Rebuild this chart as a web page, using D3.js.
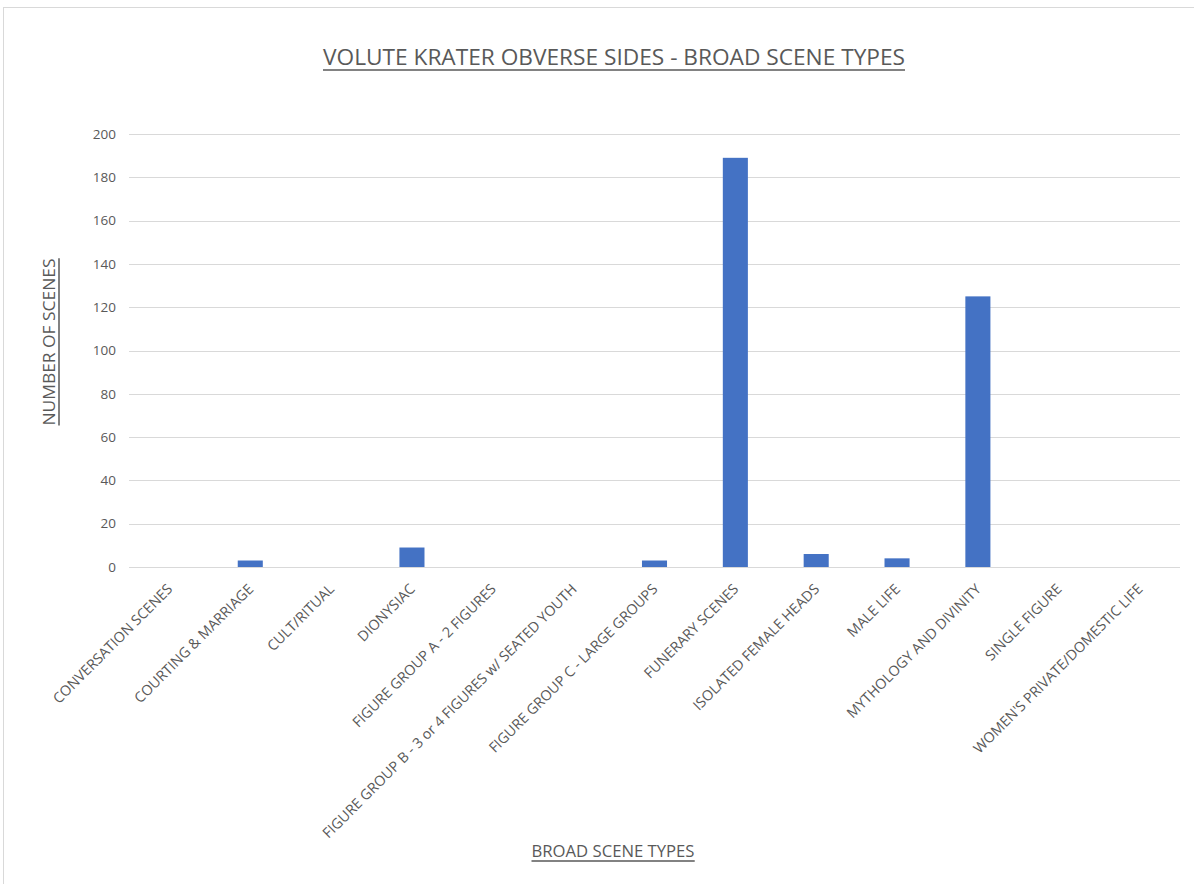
<!DOCTYPE html>
<html>
<head>
<meta charset="utf-8">
<script src="https://cdn.jsdelivr.net/npm/d3@7"></script>
<style>
  body { margin: 0; background: #fff; }
  text { font-family: "Open Sans", "DejaVu Sans", sans-serif; fill: #595959; }
</style>
</head>
<body>
<svg id="chart" width="1194" height="884"></svg>
<script>
var categories = [
    "CONVERSATION SCENES", "COURTING & MARRIAGE", "CULT/RITUAL", "DIONYSIAC",
    "FIGURE GROUP A  - 2 FIGURES", "FIGURE GROUP B - 3 or 4 FIGURES w/ SEATED YOUTH",
    "FIGURE GROUP C  - LARGE GROUPS", "FUNERARY SCENES", "ISOLATED FEMALE HEADS",
    "MALE LIFE", "MYTHOLOGY AND DIVINITY", "SINGLE FIGURE", "WOMEN'S PRIVATE/DOMESTIC LIFE"
]
var values = [0, 3, 0, 9, 0, 0, 3, 189, 6, 4, 125, 0, 0]
var yTicks = [0, 20, 40, 60, 80, 100, 120, 140, 160, 180, 200]

var titleText = "VOLUTE KRATER OBVERSE SIDES - BROAD SCENE TYPES"
var xTitle = "BROAD SCENE TYPES"
var yTitle = "NUMBER OF SCENES"

var svg = d3.select("svg#chart")

// outer chart frame
svg.append("rect")
    .attr("x", 3.5).attr("y", 7.5)
    .attr("width", 1200).attr("height", 900)
    .attr("fill", "#fff")
    .attr("stroke", "#d9d9d9")

var x = d3.scaleBand().domain(categories).range([129, 1180]).paddingInner(0.69).paddingOuter(0.345)
var y = d3.scaleLinear().domain([0, 200]).range([567, 134])

// gridlines
svg.append("g").selectAll("line").data(yTicks).enter().append("line")
    .attr("x1", 129).attr("x2", 1180)
    .attr("y1", function(d) { return Math.round(y(d)) + 0.5 })
    .attr("y2", function(d) { return Math.round(y(d)) + 0.5 })
    .attr("stroke", "#d9d9d9").attr("stroke-width", 1)

// y tick labels
svg.append("g").selectAll("text").data(yTicks).enter().append("text")
    .attr("x", 116).attr("y", function(d) { return y(d) })
    .attr("dy", "0.35em")
    .attr("text-anchor", "end")
    .style("font-size", "13.5px")
    .text(function(d) { return d })

// bars
svg.append("g").selectAll("rect").data(values).enter().append("rect")
    .attr("x", function(d, i) { return x(categories[i]) })
    .attr("width", x.bandwidth())
    .attr("y", function(d) { return y(d) })
    .attr("height", function(d) { return y(0) - y(d) })
    .attr("fill", "#4472C4")

// x tick labels, rotated
svg.append("g").selectAll("text").data(categories).enter().append("text")
    .attr("transform", function(d) {
        var cx = x(d) + x.bandwidth() / 2 + 4
        return "translate(" + cx + ",590) rotate(-45)"
    })
    .attr("text-anchor", "end")
    .style("font-size", "14.3px")
    .text(function(d) { return d })

function underlined(t) {
    var b = t.node().getBBox()
    svg.append("line")
        .attr("x1", b.x).attr("x2", b.x + b.width)
        .attr("y1", b.y + b.height - 1).attr("y2", b.y + b.height - 1)
        .attr("stroke", "#595959").attr("stroke-width", 1.5)
}

// title
var title = svg.append("text")
    .attr("x", 614).attr("y", 65)
    .attr("text-anchor", "middle")
    .attr("textLength", 582).attr("lengthAdjust", "spacingAndGlyphs")
    .style("font-size", "21px")
    .text(titleText)
underlined(title)

// x axis title
var xt = svg.append("text")
    .attr("x", 613).attr("y", 857)
    .attr("text-anchor", "middle")
    .attr("textLength", 163).attr("lengthAdjust", "spacingAndGlyphs")
    .style("font-size", "16px")
    .text(xTitle)
underlined(xt)

// y axis title
var yg = svg.append("g").attr("transform", "translate(55,342) rotate(-90)")
var yt = yg.append("text")
    .attr("x", 0).attr("y", 0)
    .attr("text-anchor", "middle")
    .attr("textLength", 167).attr("lengthAdjust", "spacingAndGlyphs")
    .style("font-size", "16px")
    .text(yTitle)
var yb = yt.node().getBBox()
yg.append("line")
    .attr("x1", yb.x).attr("x2", yb.x + yb.width)
    .attr("y1", yb.y + yb.height - 1).attr("y2", yb.y + yb.height - 1)
    .attr("stroke", "#595959").attr("stroke-width", 1.5)
</script>
</body>
</html>
